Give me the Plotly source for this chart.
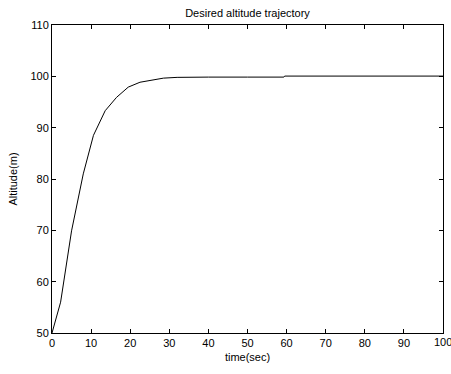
import plotly.graph_objects as go

time_sec = [0, 2.2, 5, 8, 10.6, 13.6, 16.5, 19.5, 22.5, 25.9, 28.5, 32, 35, 40, 50, 59.3, 59.5, 70, 80, 90, 100]
altitude_m = [50, 56, 69.9, 81, 88.5, 93.3, 95.9, 97.9, 98.85, 99.3, 99.65, 99.8, 99.85, 99.85, 99.85, 99.85, 100.05, 100.05, 100.05, 100.05, 100.05]

x_ticks = [0, 10, 20, 30, 40, 50, 60, 70, 80, 90, 100]
y_ticks = [50, 60, 70, 80, 90, 100, 110]

FONT = dict(family="Liberation Sans, Arial", size=11, color="black")

fig = go.Figure()
fig.add_trace(go.Scatter(x=time_sec, y=altitude_m, mode="lines",
                         line=dict(color="black", width=1), showlegend=False))

axis_common = dict(showgrid=False, zeroline=False, showline=True, linecolor="black",
                   linewidth=1, mirror="ticks", ticks="inside", ticklen=4,
                   tickcolor="black", tickfont=FONT)

# last x tick label overflows the figure edge (clipped as in the original)
fig.add_annotation(x=x_ticks[-1], y=0, xref="x", yref="paper", yanchor="top", yshift=-1,
                   text=str(x_ticks[-1]), showarrow=False, font=FONT)

fig.update_layout(
    width=451, height=374,
    margin=dict(l=52, r=8, t=25, b=41),
    paper_bgcolor="white", plot_bgcolor="white",
    title=dict(text="Desired altitude trajectory", x=0.5, xref="paper", y=0.965, yanchor="middle", font=FONT),
    xaxis=dict(range=[0, 100], tickvals=x_ticks, title=dict(text="time(sec)", standoff=5, font=FONT), **axis_common),
    yaxis=dict(range=[50, 110], tickvals=y_ticks, title=dict(text="Altitude(m)", standoff=10, font=FONT), **axis_common),
)

fig.write_html("out.html")
